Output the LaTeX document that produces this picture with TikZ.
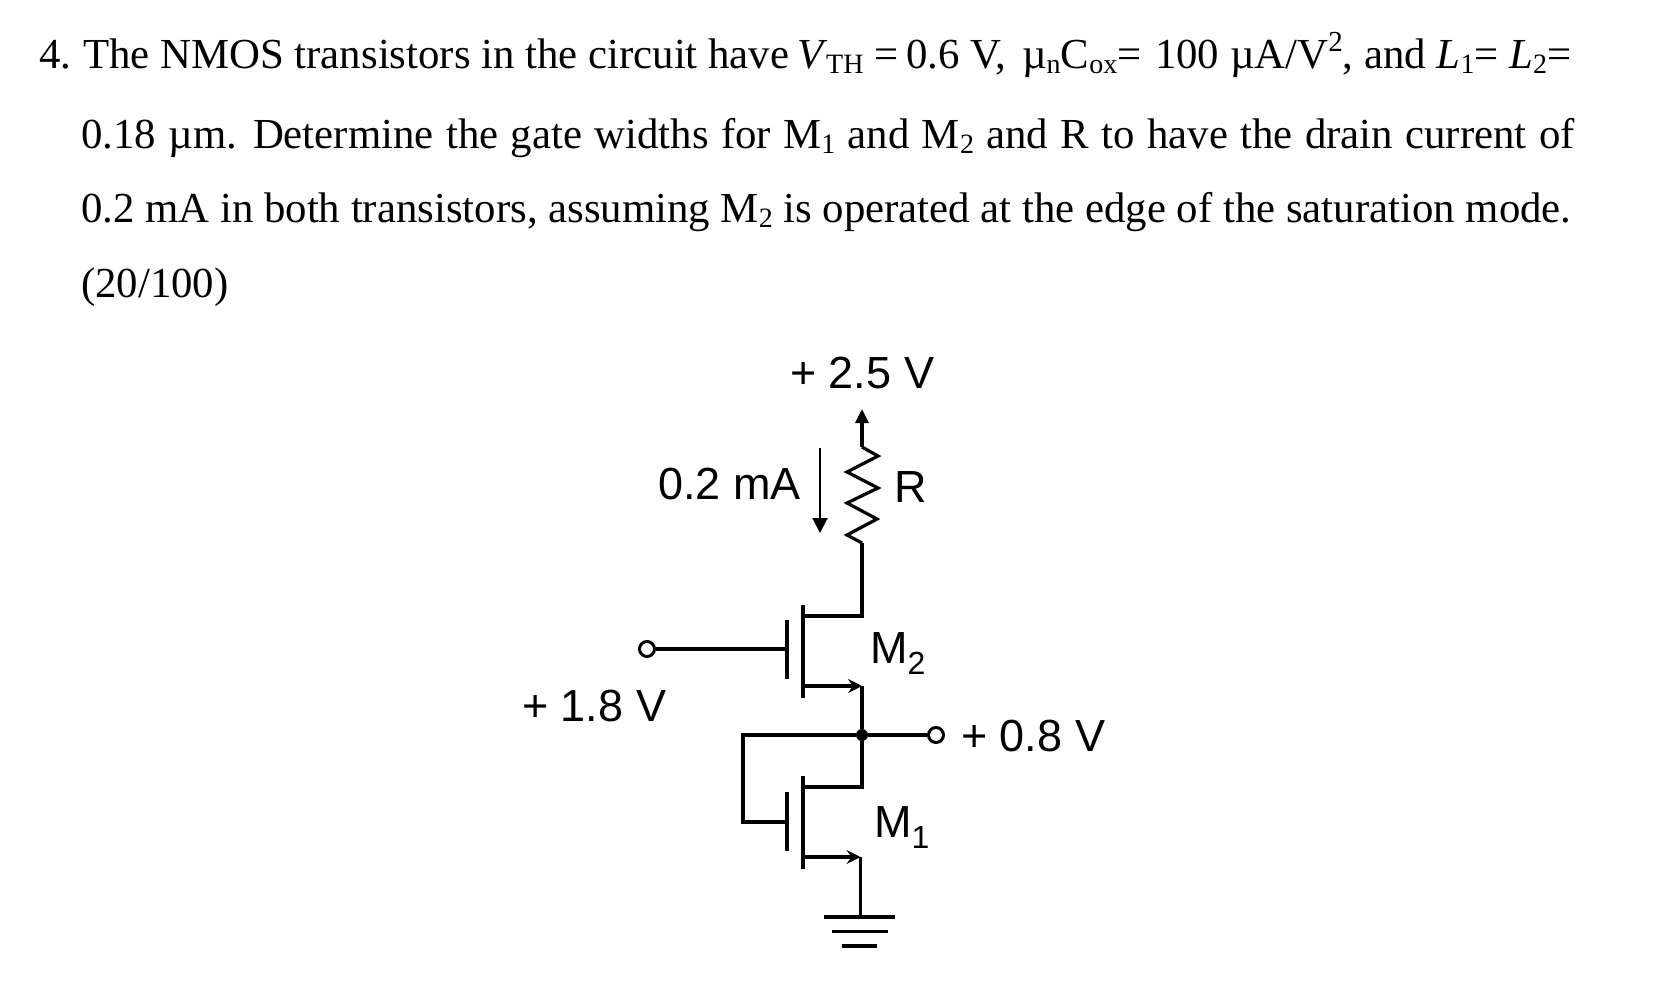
\documentclass[tikz,border=0pt]{standalone}
\usepackage{fontspec}
\setmainfont{Liberation Serif}
\newfontfamily\labelfont{Liberation Sans}
\usetikzlibrary{arrows.meta}
\newcommand{\dn}[1]{\raisebox{-0.1em}{\fontsize{28}{28}\selectfont #1}}
\newcommand{\up}[1]{\raisebox{0.42em}{\fontsize{29}{29}\selectfont #1}}
\newcommand{\lsub}[1]{\raisebox{-0.25em}{\fontsize{32}{32}\selectfont #1}}
\tikzset{
  txt/.style={anchor=base west,inner sep=0pt,font=\fontsize{42.8}{42.8}\selectfont},
  lbl/.style={anchor=base west,inner sep=0pt,font=\labelfont\fontsize{45}{45}\selectfont},
  wire/.style={line width=3.2pt,line cap=butt,line join=miter},
  bar/.style={line width=3.6pt},
  term/.style={circle,draw,line width=3pt,minimum size=15pt,inner sep=0pt},
  dotnode/.style={circle,fill=black,minimum size=12pt,inner sep=0pt},
  srcarrow/.style={wire,-{Stealth[length=14pt,width=14pt,inset=5pt]}},
  iarrow/.style={line width=2pt,-{Stealth[length=15pt,width=15pt,inset=0pt]}}
}

\begin{document}
\begin{tikzpicture}[x=1pt,y=-1pt]
  \useasboundingbox (0,0) rectangle (1680,1000);

  % question
  \node[txt] (num) at (39,69) {4.};
  \node[txt] (lineA) at (83,69) {The NMOS transistors in the circuit have \kern-2pt\textit{V}\kern-2pt\dn{TH} = \kern-3pt0.6 V, \kern5ptµ\dn{n}C\dn{ox}= \kern3pt100 µA/V\up{2}, and \textit{L}\dn{1}= \textit{L}\dn{2}=};
  \node[txt] (lineB) at (81,149) {\spaceskip=12.4pt 0.18 µm. Determine the gate widths for M\dn{1} and M\dn{2} and R to have the drain current of};
  \node[txt] (lineC) at (81,223) {0.2 mA in both transistors, assuming M\dn{2} is operated at the edge of the saturation mode.};
  \node[txt] (lineD) at (81,298) {(20/100)};

  % supply and resistor
  \coordinate (VDD) at (862,409); \coordinate (RT) at (862,447);
  \coordinate (RB) at (862,543);
  \node[lbl] (vdd) at (790,388) {+ 2.5 V};
  \node[lbl] (rlabel) at (894,502) {R};
  \node[lbl] (ilabel) at (658,499) {0.2 mA};
  \coordinate (IT) at (820,448); \coordinate (IB) at (820,533);
  \draw[iarrow] (IT) -- (IB);
  \draw[wire,-{Stealth[length=14pt,width=13pt,inset=0pt]}] (RT) -- (VDD);
  \draw[wire] (RT) -- ++(16,9) -- ++(-31,16) -- ++(31,16) -- ++(-31,15)
    -- ++(30,16) -- ++(-30,16) -- (RB);

  % M2
  \coordinate (D2) at (803,616); \coordinate (S2) at (803,686);
  \coordinate (C2T) at (803,605); \coordinate (C2B) at (803,698);
  \coordinate (B2T) at (787,620); \coordinate (B2B) at (787,679);
  \coordinate (G2) at (787,649);
  \coordinate (X2) at (862,616); \coordinate (Y2) at (862,686);
  \node[term] (in) at (647,649) {};
  \draw[bar] (C2T) -- (C2B);
  \draw[bar] (B2T) -- (B2B);
  \draw[wire] (in) -- (G2);
  \draw[wire] (RB) -- (X2) -- (D2);
  \draw[srcarrow] (S2) -- (Y2);
  \node[lbl] (m2) at (870,663) {M\lsub{2}};
  \node[lbl] (vg) at (522,721) {+ 1.8 V};

  % output node
  \node[dotnode] (mid) at (862,735) {};
  \node[term] (out) at (936,735) {};
  \coordinate (FBT) at (743,735); \coordinate (FBB) at (743,822);
  \coordinate (G1) at (787,822);
  \draw[wire] (Y2) -- (mid);
  \draw[wire] (mid) -- (out);
  \draw[wire] (mid) -- (FBT) -- (FBB) -- (G1);
  \node[lbl] (vout) at (961,751) {+ 0.8 V};

  % M1
  \coordinate (D1) at (803,787); \coordinate (S1) at (803,857);
  \coordinate (C1T) at (803,776); \coordinate (C1B) at (803,869);
  \coordinate (B1T) at (787,792); \coordinate (B1B) at (787,851);
  \coordinate (X1) at (862,787); \coordinate (Y1) at (860.5,857);
  \draw[bar] (C1T) -- (C1B);
  \draw[bar] (B1T) -- (B1B);
  \draw[wire] (mid) -- (X1) -- (D1);
  \draw[srcarrow] (S1) -- (Y1);
  \node[lbl] (m1) at (874,837) {M\lsub{1}};

  % ground
  \coordinate (GND) at (860.5,917);
  \coordinate (GAL) at (824,917); \coordinate (GAR) at (895,917);
  \coordinate (GBL) at (832,931.5); \coordinate (GBR) at (888,931.5);
  \coordinate (GCL) at (842,946); \coordinate (GCR) at (877,946);
  \draw[wire] (Y1) -- (GND);
  \draw[wire] (GAL) -- (GAR);
  \draw[wire] (GBL) -- (GBR);
  \draw[wire] (GCL) -- (GCR);
\end{tikzpicture}
\end{document}
